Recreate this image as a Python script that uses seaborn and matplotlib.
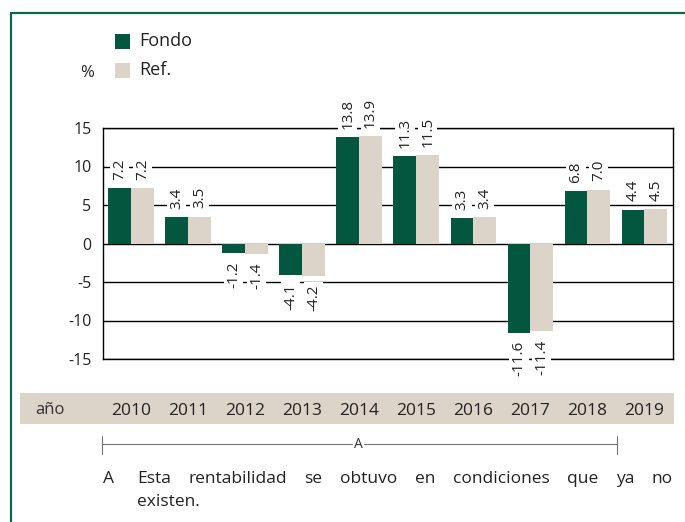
import pandas as pd
import matplotlib
matplotlib.use("Agg")
import matplotlib.pyplot as plt
import seaborn as sns
from matplotlib.patches import Rectangle
from matplotlib.lines import Line2D

anios = ['2010', '2011', '2012', '2013', '2014', '2015', '2016', '2017', '2018', '2019']
fondo = [7.2, 3.4, -1.2, -4.1, 13.8, 11.3, 3.3, -11.6, 6.8, 4.4]
ref = [7.2, 3.5, -1.4, -4.2, 13.9, 11.5, 3.4, -11.4, 7.0, 4.5]
series = ['Fondo', 'Ref.']

VERDE = '#04573F'
BEIGE = '#DDD4C9'
BORDE = '#0B6B47'
TXT = '#222222'

df = pd.DataFrame({
    'anio': anios * 2,
    'valor': fondo + ref,
    'serie': [series[0]] * len(anios) + [series[1]] * len(anios),
})

sns.set_style('white')
plt.rcParams['font.family'] = ['Open Sans', 'DejaVu Sans']

W, H = 685, 522
fig = plt.figure(figsize=(W / 100, H / 100), dpi=100)


def fx(px):
    return px / W


def fy(py):
    return 1 - py / H


ax = fig.add_axes([fx(102.5), fy(359), fx(673) - fx(102.5), fy(128) - fy(359)])
ax.set_zorder(1)
ax.patch.set_alpha(0)

sns.barplot(data=df, x='anio', y='valor', hue='serie', palette=[VERDE, BEIGE],
            saturation=1, width=0.8, ax=ax, legend=False, zorder=2,
            linewidth=0, edgecolor='none')

ax.set_ylim(-15, 15)
ax.set_yticks([-15, -10, -5, 0, 5, 10, 15])
ax.set_yticklabels(['-15', '-10', '-5', '0', '5', '10', '15'])
ax.grid(axis='y', color='black', lw=1)
ax.set_axisbelow(True)
for s in ['top', 'bottom', 'left', 'right']:
    ax.spines[s].set_color('black')
    ax.spines[s].set_linewidth(1)
ax.tick_params(axis='y', length=0, pad=8, labelsize=11.5, colors=TXT)
ax.tick_params(axis='x', length=0, pad=32, labelsize=12.5, colors=TXT)
ax.set_xlabel('')
ax.set_ylabel('')

# etiquetas de valor en vertical, con fondo blanco sobre la rejilla
for cont, vals in zip(ax.containers, [fondo, ref]):
    ax.bar_label(cont, labels=[f'{v:.1f}' for v in vals], rotation=90,
                 padding=6, fontsize=11, color=TXT, zorder=5,
                 bbox=dict(facecolor='white', edgecolor='none', pad=1.5))

# franja de años
fig.patches.append(Rectangle((fx(20), fy(424)), fx(674) - fx(20), fy(393) - fy(424),
                             transform=fig.transFigure, facecolor=BEIGE,
                             edgecolor='none', zorder=-1))
fig.text(fx(35), fy(410), 'año', fontsize=12, color='#333333', va='center', ha='left')

# leyenda
for i, (nombre, col) in enumerate(zip(series, [VERDE, BEIGE])):
    y0 = 41 + i * 29
    fig.patches.append(Rectangle((fx(115), fy(y0 + 8)), fx(15), fy(y0 - 7) - fy(y0 + 8),
                                 transform=fig.transFigure, facecolor=col,
                                 edgecolor='none'))
    fig.text(fx(139), fy(y0), nombre, fontsize=13, color=TXT,
             va='center', ha='left')
fig.text(fx(80), fy(73), '%', fontsize=12, color=TXT, va='center', ha='left')

# corchete de la nota A
gris = '#777777'
fig.add_artist(Line2D([fx(102), fx(352)], [fy(444), fy(444)], color=gris, lw=0.8))
fig.add_artist(Line2D([fx(364), fx(617)], [fy(444), fy(444)], color=gris, lw=0.8))
fig.add_artist(Line2D([fx(102), fx(102)], [fy(436), fy(454)], color=gris, lw=0.8))
fig.add_artist(Line2D([fx(617), fx(617)], [fy(436), fy(454)], color=gris, lw=0.8))
fig.text(fx(358), fy(444), 'A', fontsize=10, color='#333333', ha='center', va='center')

# nota al pie, justificada entre x=137 y x=673
fig.text(fx(103), fy(483), 'A', fontsize=12.5, color=TXT, ha='left', va='baseline')
palabras = ['Esta', 'rentabilidad', 'se', 'obtuvo', 'en', 'condiciones', 'que', 'ya', 'no']
renderer = fig.canvas.get_renderer()
objs = [fig.text(0, fy(483), p, fontsize=12.5, color=TXT, ha='left', va='baseline')
        for p in palabras]
anchos = [t.get_window_extent(renderer).width for t in objs]
hueco = (673 - 137 - sum(anchos)) / (len(palabras) - 1)
x = 137
for t, w in zip(objs, anchos):
    t.set_x(fx(x))
    x += w + hueco
fig.text(fx(137), fy(506), 'existen.', fontsize=12.5, color=TXT,
         ha='left', va='baseline')

# marco verde
fig.add_artist(Line2D([fx(10.5), fx(10.5)], [0, fy(13)], color=BORDE, lw=1.6))
fig.add_artist(Line2D([fx(10.5), 1], [fy(13), fy(13)], color=BORDE, lw=1.6))

fig.savefig('out.png', dpi=100, facecolor='white')
